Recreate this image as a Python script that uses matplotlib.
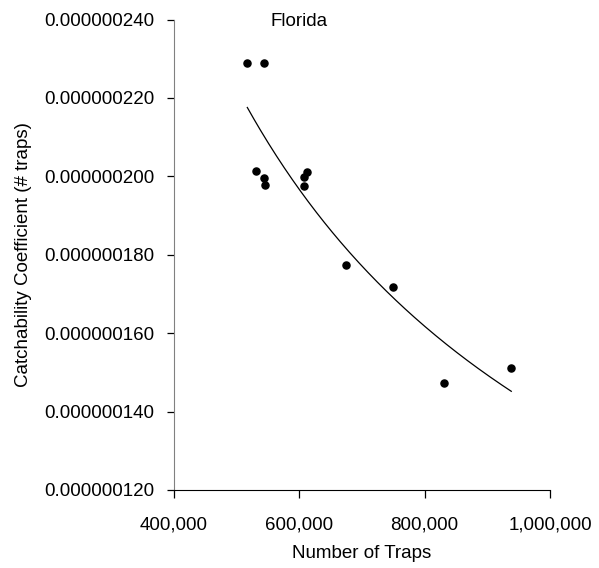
import matplotlib
matplotlib.use('Agg')
import matplotlib.pyplot as plt
import numpy as np
from matplotlib.ticker import FuncFormatter

plt.rcParams['font.family'] = ['Liberation Sans', 'DejaVu Sans']

# data
traps = [517000, 543000, 531300, 543100, 545200, 612700, 607000, 607000,
         674000, 749500, 830800, 938200]
catch_q = [228.9e-9, 228.9e-9, 201.3e-9, 199.5e-9, 197.9e-9, 201.0e-9, 199.8e-9,
           197.5e-9, 177.4e-9, 171.7e-9, 147.3e-9, 151.2e-9]
title_txt = 'Florida'

x = np.array(traps, dtype=float)
y = np.array(catch_q)

# power trendline (fit in log-log, like the spreadsheet one)
b, lna = np.polyfit(np.log(x), np.log(y), 1)
xf = np.linspace(x.min(), x.max(), 200)
yf = np.exp(lna) * xf ** b

fig = plt.figure(figsize=(5.99, 5.68), dpi=100)
ax = fig.add_axes([174/599, 1-490/568, 376/599, (490-19.5)/568])

ax.plot(xf, yf, color='black', lw=0.9)
ax.scatter(x, y, s=26, color='black', zorder=3)

ax.set_xlim(400000, 1000000)
ax.set_ylim(120e-9, 240e-9)
ax.set_xticks([400000, 600000, 800000, 1000000])
ax.set_yticks(np.arange(120e-9, 241e-9, 20e-9))
ax.xaxis.set_major_formatter(FuncFormatter(lambda v, p: '{:,.0f}'.format(v)))
ax.yaxis.set_major_formatter(FuncFormatter(lambda v, p: '%.9f' % v))

ax.spines['top'].set_visible(False)
ax.spines['right'].set_visible(False)
ax.spines['left'].set_color('#808080')
ax.spines['bottom'].set_color('black')
ax.tick_params(axis='both', direction='out', length=5, width=0.9, labelsize=13.5)
ax.tick_params(axis='y', pad=9)
ax.tick_params(axis='x', pad=13, length=6)

ax.text(600000, 239.4e-9, title_txt, ha='center', va='center', fontsize=13.5)
ax.set_xlabel('Number of Traps', fontsize=13.5, labelpad=8)
ax.set_ylabel('Catchability Coefficient (# traps)', fontsize=13.5, labelpad=9)

fig.savefig('out.png', dpi=100)
